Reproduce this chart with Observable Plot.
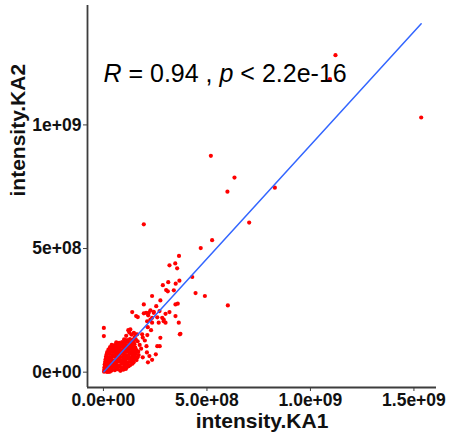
<!DOCTYPE html>
<html><head><meta charset="utf-8">
<script src="https://cdn.jsdelivr.net/npm/d3@7"></script>
<script src="https://cdn.jsdelivr.net/npm/@observablehq/plot@0.6"></script>
<style>
html,body{margin:0;padding:0;background:#fff;}
</style>
</head><body><div id="chart"></div>
<script>
// values are in millions (×1e6)
const SCALE = 1e6;

// sparse points [intensity.KA1, intensity.KA2]
const sparsePoints = [
  [1121,1282],[1094,1185],[1535,1030],[519,875],[633,787],[599,730],[828,746],[704,605],
  [195,598],[525,534],[470,502],[365,470],[319,432],[347,440],[356,420],[429,385],
  [287,352],[313,364],[349,358],[367,370],[303,332],[311,327],[340,331],[235,308],
  [445,320],[490,308],[601,270],[275,290],[348,274],[359,277],[195,274],[255,267],
  [319,243],[227,250],[243,240],[219,240],[195,238],[260,222],[271,247],[284,220],
  [291,206],[300,200],[267,200],[211,206],[227,213],[235,200],[230,170],[372,155],
  [253,72],[272,105],[2,179],[2,146],[82,6],[25,2],
  [139,243],[158,227],[166,223],[206,240],[216,230],[235,220],[243,244],[300,236],
  [291,213],[147,159],[155,153],[275,139],[260,105],[130,173],[163,153],[187,153],
  [214,182],[208,105],[190,140],[200,128],[212,150],[348,227],[364,200],[369,153],
  [110,147],[125,160],[135,152],[120,170],[150,142],[165,125],[175,110],[182,95],
  [210,80],[222,65],[235,50],[215,40],[190,60]
];

// dense cluster near the origin
const densePoints = [
  [3,2],[10,5],[17,1],[24,4],[31,2],[38,6],
  [4,10],[14,12],[27,9],[41,11],[55,8],[68,12],[82,7],[96,10],[108,13],
  [5,20],[17,22],[30,18],[44,21],[57,19],[71,23],[85,18],[99,21],[112,19],[122,24],
  [6,31],[19,28],[33,32],[47,29],[61,31],[75,28],[89,33],[103,30],[117,32],[130,29],[140,34],
  [8,41],[21,39],[35,42],[49,38],[63,41],[77,43],[91,39],[105,42],[119,40],[133,44],[146,40],
  [10,51],[23,49],[37,52],[51,48],[65,51],[79,53],[93,49],[107,51],[121,54],[135,50],[149,52],[160,49],
  [12,62],[25,59],[39,61],[53,63],[67,59],[81,62],[95,60],[109,63],[123,61],[137,59],[151,62],[165,60],
  [15,71],[28,73],[42,69],[56,72],[70,70],[84,74],[98,71],[112,69],[126,73],[140,70],[154,72],[170,69],
  [18,81],[31,79],[45,82],[59,80],[73,83],[87,79],[101,81],[115,84],[129,80],[143,82],[157,79],[168,83],
  [24,91],[37,89],[51,92],[65,90],[79,93],[93,89],[107,92],[121,90],[135,93],[149,91],[160,89],
  [32,101],[45,99],[59,102],[73,100],[87,103],[101,99],[115,102],[129,100],[143,103],[154,99],
  [40,111],[54,109],[68,112],[82,110],[96,113],[110,109],[124,112],[138,110],[150,113],
  [62,121],[76,119],[90,122],[104,120],[118,123],[132,119],[146,121],
  [100,133],[114,130],[128,134],[142,131],[156,133]
];

// linear fit (intensity.KA2 = intercept + slope * intensity.KA1)
const fitIntercept = 0;
const fitSlope = 0.918;

const xTicks = [0, 5e8, 1e9, 1.5e9];
const xTickLabels = ["0.0e+00", "5.0e+08", "1.0e+09", "1.5e+09"];
const yTicks = [0, 5e8, 1e9];
const yTickLabels = ["0e+00", "5e+08", "1e+09"];

const xTitle = "intensity.KA1";
const yTitle = "intensity.KA2";
const corParts = [["R", true], [" = 0.94 , ", false], ["p", true], [" < 2.2e-16", false]];
const corPos = {x: 0, y: 1207e6};

const xDomain = [-77e6, 1609e6];
const yDomain = [-62e6, 1483e6];

const points = sparsePoints.concat(densePoints).map(([a, b]) => ({ka1: a * SCALE, ka2: b * SCALE}));
const xs = points.map(d => d.ka1);
const fitLine = [d3.min(xs), d3.max(xs)].map(x => ({x, y: fitIntercept + fitSlope * x}));
const corText = corParts.map(p => p[0]).join("");

const chart = Plot.plot({
  width: 450,
  height: 441,
  marginLeft: 87,
  marginRight: 14,
  marginTop: 5,
  marginBottom: 54,
  style: {fontFamily: "Liberation Sans, Arial, sans-serif", background: "#fff", color: "#111"},
  x: {domain: xDomain, label: null},
  y: {domain: yDomain, label: null},
  marks: [
    Plot.ruleX([xDomain[0]], {stroke: "#3d3d3d", strokeWidth: 1.8}),
    Plot.ruleY([yDomain[0]], {stroke: "#3d3d3d", strokeWidth: 1.8}),
    Plot.axisX({ticks: xTicks, tickFormat: d => xTickLabels[xTicks.indexOf(d)], tickSize: 4, tickPadding: 2, fontSize: 17.5, fontWeight: "bold", stroke: "#3d3d3d", fill: "#111", label: null}),
    Plot.axisY({ticks: yTicks, tickFormat: d => yTickLabels[yTicks.indexOf(d)], tickSize: 4, tickPadding: 2, fontSize: 17.5, fontWeight: "bold", stroke: "#3d3d3d", fill: "#111", label: null}),
    Plot.dot(points, {x: "ka1", y: "ka2", r: 2.1, fill: "#FF0000", stroke: null}),
    Plot.line(fitLine, {x: "x", y: "y", stroke: "#3366FF", strokeWidth: 1.5}),
    Plot.text([corText], {x: () => corPos.x, y: () => corPos.y, text: d => d, textAnchor: "start", lineAnchor: "middle", fontSize: 25, fontWeight: "normal", fill: "#000"}),
    Plot.text([xTitle], {text: d => d, frameAnchor: "bottom", dy: 34, lineAnchor: "middle", fontSize: 21, fontWeight: "bold", fill: "#111"}),
    Plot.text([yTitle], {text: d => d, frameAnchor: "left", dx: -69, rotate: -90, lineAnchor: "middle", fontSize: 21, fontWeight: "bold", fill: "#111"})
  ]
});

// italicise R and p in the correlation label
chart.querySelectorAll("text").forEach(t => {
  if (t.textContent === corText) {
    t.textContent = "";
    t.setAttribute("xml:space", "preserve");
    t.style.whiteSpace = "pre";
    corParts.forEach(([s, it]) => {
      const ts = document.createElementNS("http://www.w3.org/2000/svg", "tspan");
      ts.textContent = s;
      if (it) ts.setAttribute("font-style", "italic");
      t.appendChild(ts);
    });
  }
});

document.getElementById("chart").appendChild(chart);
</script>
</body></html>
